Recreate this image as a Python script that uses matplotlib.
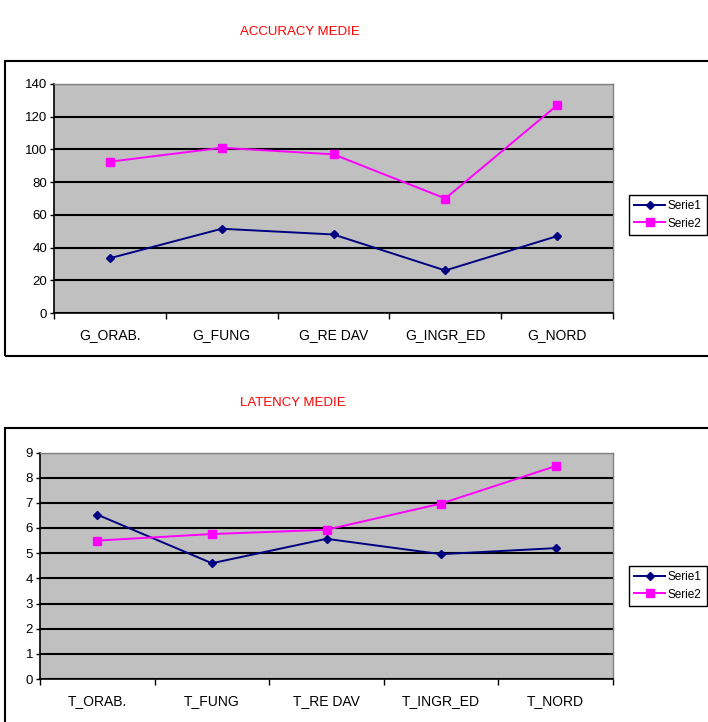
import matplotlib
matplotlib.use("Agg")
import matplotlib.pyplot as plt
from matplotlib.patches import Rectangle
from matplotlib.ticker import MultipleLocator, FixedLocator, NullFormatter

plt.rcParams['font.family'] = ['Liberation Sans', 'DejaVu Sans']

# Accuracy chart data
acc_categories = ["G_ORAB.", "G_FUNG", "G_RE DAV", "G_INGR_ED", "G_NORD"]
acc_serie1 = [33.5, 51.5, 48, 26, 47]
acc_serie2 = [92.5, 101, 97, 70, 127]

# Latency chart data
lat_categories = ["T_ORAB.", "T_FUNG", "T_RE DAV", "T_INGR_ED", "T_NORD"]
lat_serie1 = [6.53, 4.6, 5.57, 4.96, 5.2]
lat_serie2 = [5.5, 5.76, 5.93, 6.97, 8.46]

series_names = ["Serie1", "Serie2"]

W, H = 708, 722
fig = plt.figure(figsize=(W / 100, H / 100), dpi=100)
fig.patch.set_facecolor("white")


def px_rect(x0, y0, x1, y1):
    """Convert pixel box (top-left origin) to figure fraction [l, b, w, h]."""
    return [x0 / W, 1 - y1 / H, (x1 - x0) / W, (y1 - y0) / H]


def draw_chart(box, categories, s1, s2, ymax, ystep, title, title_xy,
               frame_box, legend_xy):
    # outer chart frame
    fx0, fy0, fx1, fy1 = frame_box
    fig.patches.append(Rectangle((fx0 / W, 1 - fy1 / H), (fx1 - fx0) / W,
                                 (fy1 - fy0) / H, transform=fig.transFigure,
                                 fill=False, edgecolor="black", linewidth=1.5))
    fig.text(title_xy[0] / W, 1 - title_xy[1] / H, title, color="#FF0000",
             fontsize=9.5, ha="center", va="center")

    ax = fig.add_axes(px_rect(*box))
    ax.set_facecolor("#C0C0C0")
    x = list(range(len(categories)))
    l1, = ax.plot(x, s1, color="#000080", marker="D", markersize=4.5,
                  linewidth=1.4, label=series_names[0])
    l2, = ax.plot(x, s2, color="#FF00FF", marker="s", markersize=6,
                  linewidth=1.4, label=series_names[1])

    ax.set_xlim(-0.5, len(categories) - 0.5)
    ax.set_ylim(0, ymax)
    ax.yaxis.set_major_locator(MultipleLocator(ystep))
    ax.grid(axis="y", color="black", linewidth=1.5)
    ax.set_axisbelow(True)

    ax.xaxis.set_major_locator(FixedLocator([i - 0.5 for i in range(len(categories) + 1)]))
    ax.xaxis.set_major_formatter(NullFormatter())
    ax.xaxis.set_minor_locator(FixedLocator(x))
    ax.set_xticklabels(categories, minor=True)
    ax.tick_params(axis="x", which="major", direction="out", length=4,
                   width=1, color="black")
    ax.tick_params(axis="x", which="minor", length=0, pad=11, labelsize=10)
    ax.tick_params(axis="y", direction="out", length=3, width=1,
                   color="black", pad=2, labelsize=9.5)

    for side in ("left", "bottom"):
        ax.spines[side].set_color("black")
        ax.spines[side].set_linewidth(1.2)
    for side in ("top", "right"):
        ax.spines[side].set_color("#808080")
        ax.spines[side].set_linewidth(1)

    fig.legend(handles=[l1, l2], loc="upper left",
               bbox_to_anchor=(legend_xy[0] / W, 1 - legend_xy[1] / H),
               bbox_transform=fig.transFigure, fontsize=8.5, frameon=True,
               fancybox=False, shadow=False, edgecolor="black",
               framealpha=1, borderpad=0.45, handlelength=2.6,
               handletextpad=0.2, labelspacing=0.45, borderaxespad=0,
               markerscale=0.85)
    return ax


draw_chart((54, 84, 613, 313), acc_categories, acc_serie1, acc_serie2,
           140, 20, "ACCURACY MEDIE", (300, 32), (5, 61, 760, 356), (629, 195))
draw_chart((40, 452.5, 613, 679), lat_categories, lat_serie1, lat_serie2,
           9, 1, "LATENCY MEDIE", (293, 403), (5, 428, 760, 760), (629, 566))

fig.savefig("out.png", dpi=100)
